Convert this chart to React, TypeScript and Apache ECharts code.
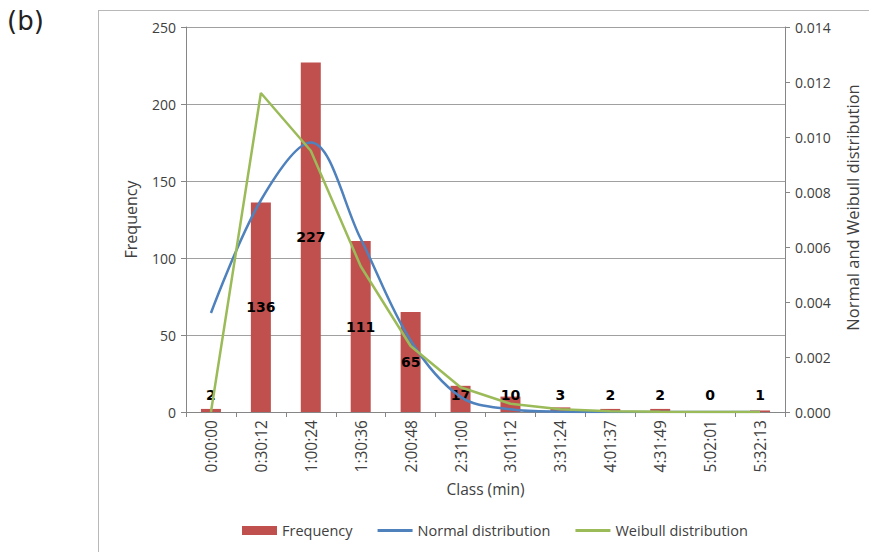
import React, { useEffect, useRef } from "react";
import * as echarts from "echarts";

const categories = ["0:00:00", "0:30:12", "1:00:24", "1:30:36", "2:00:48", "2:31:00", "3:01:12", "3:31:24", "4:01:37", "4:31:49", "5:02:01", "5:32:13"];
const frequency = [2, 136, 227, 111, 65, 17, 10, 3, 2, 2, 0, 1];
const normalDist = [0.0036, 0.0077, 0.0098, 0.0063, 0.0026, 0.00055, 0.0001, 0.00001, 0, 0, 0, 0];
const weibullDist = [0, 0.0116, 0.0095, 0.0053, 0.0024, 0.0009, 0.0003, 0.0001, 0.00003, 0.00001, 0, 0];

const FONT = "'Open Sans', 'Noto Sans', sans-serif";
const TXT = "#404040";
const LINE_ICON = "path://M0,3 L36,3 L36,6 L0,6 Z";

export default function App() {
  const ref = useRef<HTMLDivElement>(null);
  useEffect(() => {
    document.body.style.margin = "0";
    const chart = echarts.init(ref.current!, null, { renderer: "svg" });
    const barData = frequency.map((v) => ({
      value: v,
      label: v >= 25 ? { position: "inside" } : { position: "insideBottom", distance: 10 },
    }));
    chart.setOption({
      animation: false,
      backgroundColor: "#ffffff",
      textStyle: { fontFamily: FONT },
      grid: { left: 186, right: 84, top: 27, bottom: 140 },
      graphic: [
        { type: "line", shape: { x1: 98, y1: 10.5, x2: 869, y2: 10.5 }, style: { stroke: "#b8b8b8", lineWidth: 1 } },
        { type: "line", shape: { x1: 98.5, y1: 10, x2: 98.5, y2: 552 }, style: { stroke: "#b8b8b8", lineWidth: 1 } },
        { type: "text", left: 7, top: 8, style: { text: "(b)", fontSize: 26, fontFamily: "'DejaVu Sans', sans-serif", fill: "#222" } },
      ],
      legend: {
        bottom: 9,
        left: 237,
        itemGap: 25,
        itemWidth: 35,
        itemHeight: 9,
        textStyle: { fontSize: 14.5, color: TXT, fontFamily: FONT },
        data: [
          { name: "Frequency", icon: "rect" },
          { name: "Normal distribution", icon: LINE_ICON },
          { name: "Weibull distribution", icon: LINE_ICON },
        ],
      },
      xAxis: {
        type: "category",
        data: categories,
        name: "Class (min)",
        nameLocation: "middle",
        nameGap: 69,
        nameTextStyle: { fontSize: 15.5, color: TXT, fontFamily: FONT },
        axisLine: { lineStyle: { color: "#868686" } },
        axisTick: { show: true, alignWithLabel: false, length: 5, lineStyle: { color: "#868686" } },
        axisLabel: { rotate: 90, fontSize: 15.5, color: TXT, fontFamily: FONT, margin: 8 },
      },
      yAxis: [
        {
          type: "value",
          min: 0,
          max: 250,
          interval: 50,
          name: "Frequency",
          nameLocation: "middle",
          nameGap: 47,
          nameTextStyle: { fontSize: 16, color: TXT, fontFamily: FONT },
          axisLine: { show: true, lineStyle: { color: "#868686" } },
          axisTick: { show: true, length: 5, lineStyle: { color: "#868686" } },
          axisLabel: { fontSize: 14, color: TXT, fontFamily: FONT, margin: 10 },
          splitLine: { lineStyle: { color: "#a0a0a0" } },
        },
        {
          type: "value",
          min: 0,
          max: 0.014,
          interval: 0.002,
          name: "Normal and Weibull distribution",
          nameLocation: "middle",
          nameGap: 59,
          nameRotate: 90,
          nameTextStyle: { fontSize: 16.5, color: TXT, fontFamily: FONT, padding: [0, 0, 0, 24] },
          axisLine: { show: true, lineStyle: { color: "#868686" } },
          axisTick: { show: true, length: 5, lineStyle: { color: "#868686" } },
          axisLabel: { fontSize: 14, color: TXT, fontFamily: FONT, margin: 10, formatter: (v: number) => v.toFixed(3) },
          splitLine: { show: false },
        },
      ],
      series: [
        {
          name: "Frequency",
          type: "bar",
          yAxisIndex: 0,
          data: barData,
          barWidth: 20,
          itemStyle: { color: "#c0504d" },
          label: {
            show: true,
            color: "#000",
            fontWeight: "bold",
            fontSize: 14,
            fontFamily: "'DejaVu Sans', Verdana, sans-serif",
          },
          z: 1,
        },
        {
          name: "Normal distribution",
          type: "line",
          yAxisIndex: 1,
          data: normalDist,
          smooth: 0.35,
          showSymbol: false,
          symbol: "none",
          lineStyle: { color: "#4f81bd", width: 2.5 },
          itemStyle: { color: "#4f81bd" },
          z: 2,
        },
        {
          name: "Weibull distribution",
          type: "line",
          yAxisIndex: 1,
          data: weibullDist,
          smooth: false,
          showSymbol: false,
          symbol: "none",
          lineStyle: { color: "#9bbb59", width: 2.5 },
          itemStyle: { color: "#9bbb59" },
          z: 3,
        },
      ],
    });
    return () => chart.dispose();
  }, []);
  return <div ref={ref} style={{ width: 869, height: 552 }} />;
}
